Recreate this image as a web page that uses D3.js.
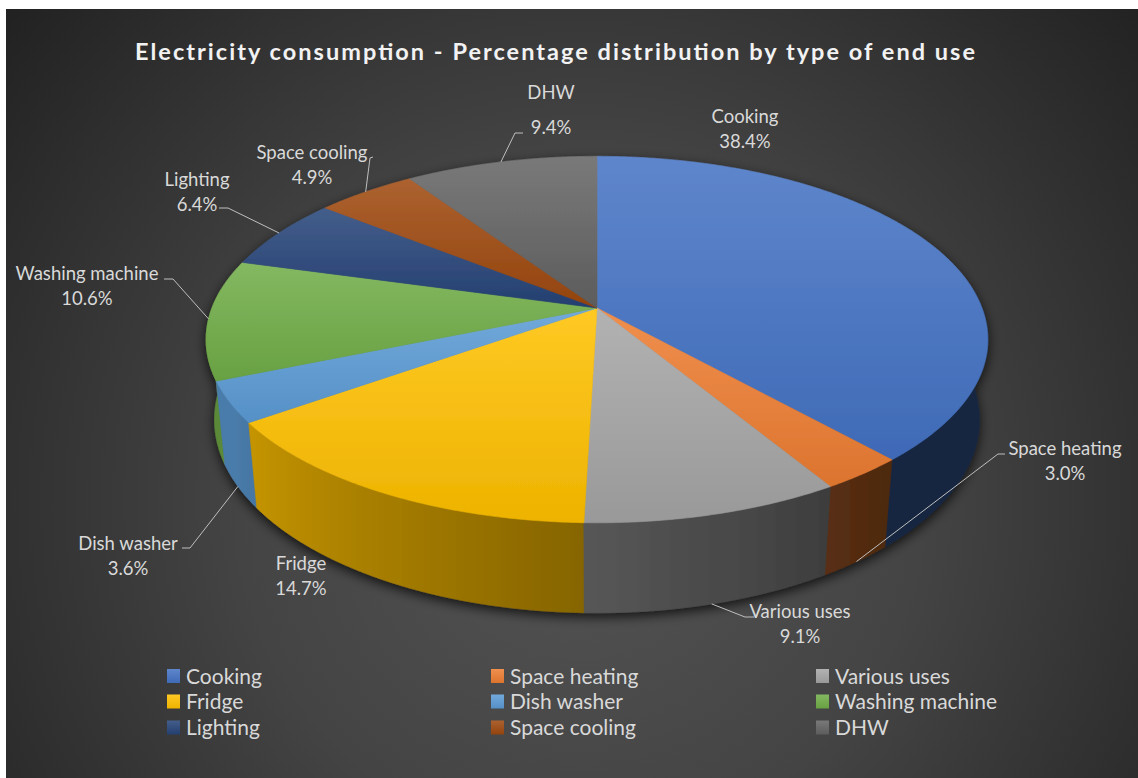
<!DOCTYPE html>
<html>
<head>
<meta charset="utf-8">
<script src="https://cdn.jsdelivr.net/npm/d3@7"></script>
<style>
  html, body { margin: 0; padding: 0; background: #ffffff; }
  svg { display: block; }
</style>
</head>
<body>
<svg id="chart" width="1138" height="778"></svg>
<script>
// ---- data ----
const categories = ["Cooking", "Space heating", "Various uses", "Fridge", "Dish washer",
                    "Washing machine", "Lighting", "Space cooling", "DHW"];
const shares = [38.4, 3.0, 9.1, 14.7, 3.6, 10.6, 6.4, 4.9, 9.4];
const palette = ["#4472C4", "#ED7D31", "#A5A5A5", "#FFC000", "#5B9BD5",
                 "#70AD47", "#264478", "#9E480E", "#636363"];
const chartTitle = "Electricity consumption - Percentage distribution by type of end use";

// ---- layout ----
const W = 1138, H = 778;
const FONT = "Lato, 'Noto Sans', 'DejaVu Sans', sans-serif";
const svg = d3.select("#chart");
const defs = svg.append("defs");

// chart area background: dark radial gradient
const bg = defs.append("radialGradient").attr("id", "bg")
  .attr("gradientUnits", "userSpaceOnUse")
  .attr("cx", 580).attr("cy", 500).attr("r", 760);
bg.append("stop").attr("offset", 0).attr("stop-color", "#545454");
bg.append("stop").attr("offset", 0.45).attr("stop-color", "#444444");
bg.append("stop").attr("offset", 1).attr("stop-color", "#212121");
svg.append("rect").attr("x", 6).attr("y", 9).attr("width", W - 6).attr("height", H - 9)
  .attr("fill", "url(#bg)");

// soft shadow under the pie
const shadow = defs.append("filter").attr("id", "pieShadow")
  .attr("x", "-10%").attr("y", "-10%").attr("width", "120%").attr("height", "125%");
shadow.append("feDropShadow").attr("dx", 0).attr("dy", 4).attr("stdDeviation", 6)
  .attr("flood-color", "#000").attr("flood-opacity", 0.75);

// top-face gradients (lighter at top, slightly darker at bottom)
palette.forEach((c, i) => {
  const g = defs.append("linearGradient").attr("id", "top" + i)
    .attr("x1", 0).attr("y1", 0).attr("x2", 0).attr("y2", 1);
  g.append("stop").attr("offset", 0).attr("stop-color", d3.interpolateRgb(c, "#ffffff")(0.14));
  g.append("stop").attr("offset", 1).attr("stop-color", d3.interpolateRgb(c, "#000000")(0.07));
});

// ---- 3D pie projection ----
const cx = 597, cy = 308, k = 385;
const tilt = 27.5 * Math.PI / 180, sinT = Math.sin(tilt), cosT = Math.cos(tilt);
const camDist = 5.8 * cosT;
const thick = 0.237;
const rad = Math.PI / 180;

// a: angle clockwise from the back of the pie; yW: 0 for the top face, -thick for the base
function project(a, r, yW) {
  const X = r * Math.sin(a), Z = r * Math.cos(a);
  const v = yW * cosT + Z * sinT;
  const d = Z * cosT - yW * sinT;
  const s = camDist / (camDist + d);
  return [cx + k * X * s, cy - k * v * s];
}

const arcs = d3.pie().sort(null).value(d => d)
  .startAngle(0).endAngle(2 * Math.PI)(shares);

// side wall brightness: lit from the left, darker towards the right
function sideShade(base, a) {
  const deg = a / rad;
  const f = Math.max(0.33, Math.min(0.8, 0.33 + 0.47 * (deg - 140) / 100));
  const c = d3.rgb(base);
  return d3.rgb(c.r * f, c.g * f, c.b * f).formatHex();
}

const pie = svg.append("g").attr("filter", "url(#pieShadow)");

// side walls: only the front half is visible, one shaded band per slice
const sideFrom = 84 * rad, sideTo = 276 * rad;
const sides = [];
arcs.forEach((arc, i) => {
  const b0 = Math.max(arc.startAngle, sideFrom), b1 = Math.min(arc.endAngle, sideTo);
  if (b1 <= b0) return;
  sides.push({ i, b0, b1, depth: Math.max(Math.cos(b0), Math.cos(b1)) });
});
sides.sort((p, q) => q.depth - p.depth);

sides.forEach(sd => {
  const n = Math.max(2, Math.ceil((sd.b1 - sd.b0) / (0.5 * rad)));
  const angles = d3.range(n + 1).map(j => sd.b0 + (sd.b1 - sd.b0) * j / n);
  const topPts = angles.map(a => project(a, 1, 0));
  const botPts = angles.map(a => project(a, 1, -thick)).reverse();
  const xs = topPts.map(p => p[0]);
  const xA = xs[0], xB = xs[xs.length - 1];
  const g = defs.append("linearGradient").attr("id", "side" + sd.i)
    .attr("gradientUnits", "userSpaceOnUse")
    .attr("x1", xA).attr("y1", 0).attr("x2", xB).attr("y2", 0);
  let prev = 0;
  angles.forEach((a, j) => {
    let off = (xs[j] - xA) / (xB - xA || 1);
    off = Math.max(prev, Math.min(1, Math.max(0, off)));
    prev = off;
    g.append("stop").attr("offset", off).attr("stop-color", sideShade(palette[sd.i], a));
  });
  const pts = topPts.concat(botPts);
  pie.append("path")
    .attr("d", "M" + pts.map(q => q.join(",")).join("L") + "Z")
    .attr("fill", `url(#side${sd.i})`)
    .attr("stroke", `url(#side${sd.i})`)
    .attr("stroke-width", 0.6);
});

// top faces
function topPath(arc) {
  const n = Math.max(2, Math.ceil((arc.endAngle - arc.startAngle) / (0.5 * rad)));
  const pts = [project(0, 0, 0)];
  for (let j = 0; j <= n; j++) {
    pts.push(project(arc.startAngle + (arc.endAngle - arc.startAngle) * j / n, 1, 0));
  }
  return "M" + pts.map(q => q.join(",")).join("L") + "Z";
}
pie.append("g").selectAll("path").data(arcs).join("path")
  .attr("d", topPath)
  .attr("fill", (d, i) => `url(#top${i})`)
  .attr("stroke", (d, i) => `url(#top${i})`)
  .attr("stroke-width", 0.6)
  .attr("stroke-linejoin", "round");

// ---- title ----
svg.append("text")
  .attr("x", 555).attr("y", 60)
  .attr("text-anchor", "middle")
  .attr("font-family", FONT).attr("font-weight", 700).attr("font-size", 23.5)
  .attr("textLength", 840).attr("lengthAdjust", "spacing")
  .attr("fill", "#f2f2f2")
  .text(chartTitle);

// ---- data labels with leader lines ----
const pct = d3.format(".1f");
// label anchor (centre x, first baseline), second-line gap, leader attach/elbow points
const labelLayout = [
  { x: 745, y: 123, gap: 25, leader: null },
  { x: 1065, y: 455, gap: 25, leader: [[1005, 454], [998, 454]] },
  { x: 800, y: 618, gap: 25, leader: [[754, 617], [745, 617]] },
  { x: 301, y: 570, gap: 25, leader: null },
  { x: 128, y: 550, gap: 25, leader: [[182, 548], [190, 548]] },
  { x: 87, y: 280, gap: 25, leader: [[164, 279], [173, 279]] },
  { x: 197, y: 186, gap: 25, leader: [[219, 208], [228, 208]] },
  { x: 312, y: 159, gap: 25, leader: [[373, 157], [370, 158]] },
  { x: 551, y: 99, gap: 35, leader: [[523, 133], [515, 133]] }
];

// leader target: outer edge of the slice at its mid angle (base edge on the front side)
function leaderTarget(arc) {
  const am = (arc.startAngle + arc.endAngle) / 2;
  return Math.cos(am) < -0.2 ? project(am, 1, -thick) : project(am, 1, 0);
}

const labels = svg.append("g");
arcs.forEach((arc, i) => {
  const L = labelLayout[i];
  if (L.leader) {
    const pts = [L.leader[0], L.leader[1], leaderTarget(arc)];
    labels.append("path")
      .attr("d", d3.line()(pts))
      .attr("fill", "none").attr("stroke", "#bfbfbf").attr("stroke-width", 1);
  }
  const t = labels.append("text")
    .attr("text-anchor", "middle")
    .attr("font-family", FONT).attr("font-size", 18.5)
    .attr("fill", "#d9d9d9");
  t.append("tspan").attr("x", L.x).attr("y", L.y).text(categories[i]);
  t.append("tspan").attr("x", L.x).attr("y", L.y + L.gap).text(pct(shares[i]) + "%");
});

// ---- legend ----
const legendCols = [167, 491, 816];
const legendRows = [676, 701.5, 727.5];
const legend = svg.append("g");
categories.forEach((name, i) => {
  const x = legendCols[i % 3], y = legendRows[Math.floor(i / 3)];
  legend.append("rect").attr("x", x).attr("y", y - 7).attr("width", 13).attr("height", 14)
    .attr("fill", `url(#top${i})`);
  legend.append("text").attr("x", x + 19).attr("y", y + 7.5)
    .attr("font-family", FONT).attr("font-size", 21)
    .attr("fill", "#d9d9d9")
    .text(name);
});
</script>
</body>
</html>
